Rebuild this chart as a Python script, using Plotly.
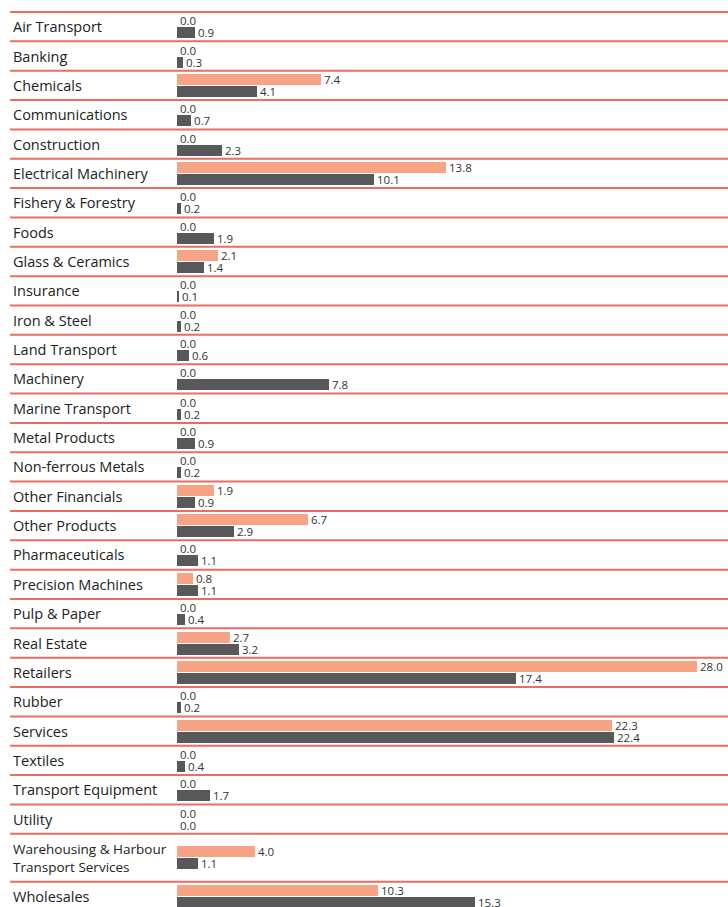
import numpy as np
import plotly.graph_objects as go

categories = [
    "Air Transport", "Banking", "Chemicals", "Communications", "Construction",
    "Electrical Machinery", "Fishery & Forestry", "Foods", "Glass & Ceramics",
    "Insurance", "Iron & Steel", "Land Transport", "Machinery", "Marine Transport",
    "Metal Products", "Non-ferrous Metals", "Other Financials", "Other Products",
    "Pharmaceuticals", "Precision Machines", "Pulp & Paper", "Real Estate",
    "Retailers", "Rubber", "Services", "Textiles", "Transport Equipment", "Utility",
    "Warehousing & Harbour<br>Transport Services", "Wholesales",
]
series_a = [0.0, 0.0, 7.4, 0.0, 0.0, 13.8, 0.0, 0.0, 2.1, 0.0, 0.0, 0.0, 0.0, 0.0,
            0.0, 0.0, 1.9, 6.7, 0.0, 0.8, 0.0, 2.7, 28.0, 0.0, 22.3, 0.0, 0.0, 0.0,
            4.0, 10.3]
series_b = [0.9, 0.3, 4.1, 0.7, 2.3, 10.1, 0.2, 1.9, 1.4, 0.1, 0.2, 0.6, 7.8, 0.2,
            0.9, 0.2, 0.9, 2.9, 1.1, 1.1, 0.4, 3.2, 17.4, 0.2, 22.4, 0.4, 1.7, 0.0,
            1.1, 15.3]

W, H = 728, 907
ORANGE = "#f7a386"
DARK = "#58585a"
LINE = "#ec6b62"

# layout: row heights (px), the two-line row is taller
TOP = 12.0
ROW = 29.35
heights = [48.0 if "<br>" in c else ROW for c in categories]
edges = TOP + np.concatenate([[0], np.cumsum(heights)])
centers = (edges[:-1] + edges[1:]) / 2

X0_PX = 177
PX_PER_UNIT = 19.5
XMAX = (W - X0_PX) / PX_PER_UNIT
CAP = XMAX - 1.6  # longest bar shortened so its label fits

a = np.array(series_a)
b = np.array(series_b)

fig = go.Figure()
for vals, off, col in [(a, -6, ORANGE), (b, 6, DARK)]:
    fig.add_trace(go.Bar(
        orientation="h",
        x=np.minimum(vals, CAP),
        y=centers + off,
        width=11,
        marker=dict(color=col, line=dict(width=0)),
        text=[f"{v:.1f}" for v in vals],
        textposition="outside",
        textfont=dict(size=11.5, color="#333333", family="Open Sans"),
        cliponaxis=False,
        constraintext="none",
        hoverinfo="skip",
    ))

shapes = []
for e in edges[:-1]:
    shapes.append(dict(type="line", xref="paper", yref="y", x0=10 / W, x1=1,
                       y0=e, y1=e, line=dict(color=LINE, width=2)))

annotations = []
for c, yc in zip(categories, centers):
    two = "<br>" in c
    annotations.append(dict(
        text=c, xref="paper", yref="y", x=11 / W, y=yc, xanchor="left",
        yanchor="middle", showarrow=False, align="left",
        font=dict(size=13.5 if two else 14.5, color="#222222", family="Open Sans"),
    ))

fig.update_layout(
    width=W, height=H,
    margin=dict(l=0, r=0, t=0, b=0),
    paper_bgcolor="white", plot_bgcolor="white",
    barmode="overlay",
    showlegend=False,
    bargap=0,
    xaxis=dict(domain=[X0_PX / W, 1], range=[0, XMAX], visible=False, fixedrange=True),
    yaxis=dict(range=[H, 0], visible=False, fixedrange=True),
    shapes=shapes,
    annotations=annotations,
)

fig.write_html(
    "out.html",
    config={"displayModeBar": False},
    post_script="document.body.style.margin='0';document.body.style.overflow='hidden';",
)
